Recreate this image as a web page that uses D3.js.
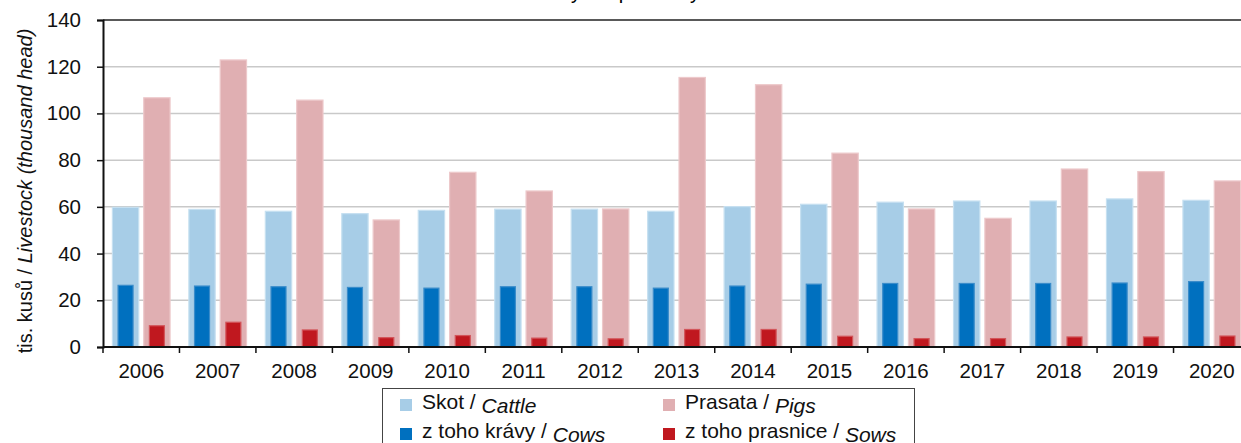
<!DOCTYPE html>
<html>
<head>
<meta charset="utf-8">
<script src="https://cdn.jsdelivr.net/npm/d3@7"></script>
<style>
  body { margin: 0; background: #fff; }
  svg { display: block; font-family: "Liberation Sans", Arial, sans-serif; }
</style>
</head>
<body>
<svg width="1241" height="443"></svg>
<script>
var years = ["2006", "2007", "2008", "2009", "2010", "2011", "2012", "2013", "2014", "2015", "2016", "2017", "2018", "2019", "2020"];
var cattle = [59.8, 58.9, 58.1, 57.1, 58.5, 59.0, 59.0, 58.1, 60.1, 61.1, 62.0, 62.5, 62.5, 63.4, 62.8];
var pigs = [106.7, 122.9, 105.7, 54.4, 74.8, 66.8, 59.1, 115.4, 112.3, 83.0, 59.1, 55.1, 76.2, 75.1, 71.1];
var cows = [26.4, 26.1, 25.8, 25.5, 25.2, 25.8, 25.8, 25.2, 26.1, 26.9, 27.2, 27.2, 27.2, 27.4, 28.0];
var sows = [9.1, 10.6, 7.3, 4.0, 4.9, 3.8, 3.5, 7.5, 7.5, 4.6, 3.6, 3.6, 4.3, 4.3, 4.7];
var yTicks = [0, 20, 40, 60, 80, 100, 120, 140];

var svg = d3.select("svg");

const plotLeft = 103;
const plotRight = 1250; // plot runs past the window edge
const plotTop = 20;
const plotBottom = 347;

var x = d3.scaleBand().domain(years).range([plotLeft, plotRight]).padding(0);
var sub = d3.scaleBand().domain(["cattle", "pigs"]).range([0, x.bandwidth()])
  .paddingInner(0.16).paddingOuter(0.3);
var y = d3.scaleLinear().domain([0, 140]).range([plotBottom, plotTop]);

// title, mostly above the visible area
svg.append("text")
  .attr("x", 745)
  .attr("y", -1)
  .attr("text-anchor", "middle")
  .style("font-size", "20px")
  .text("Stavy hospodářských zvířat / ")
  .append("tspan")
  .style("font-style", "italic")
  .text("Livestock numbers");

// gridlines
svg.append("g")
  .selectAll("line")
  .data(yTicks.filter(d => d > 0 && d < 140))
  .enter()
  .append("line")
  .attr("x1", plotLeft)
  .attr("x2", plotRight)
  .attr("y1", d => y(d))
  .attr("y2", d => y(d))
  .attr("stroke", "#c9c9c9")
  .attr("stroke-width", 1.5);

// top border
svg.append("line")
  .attr("x1", plotLeft).attr("x2", plotRight)
  .attr("y1", y(140)).attr("y2", y(140))
  .attr("stroke", "#222").attr("stroke-width", 1.5);

var rows = years.map((yr, i) => ({
  year: yr, cattle: cattle[i], pigs: pigs[i], cows: cows[i], sows: sows[i]
}));

var outerW = sub.bandwidth();
var innerW = outerW * 0.57;

function bars(cls, key, col, fill, stroke, w) {
  svg.append("g")
    .selectAll("rect")
    .data(rows)
    .enter()
    .append("rect")
    .attr("class", cls)
    .attr("x", d => x(d.year) + sub(col) + (outerW - w) / 2)
    .attr("width", w)
    .attr("y", d => y(d[key]))
    .attr("height", d => y(0) - y(d[key]))
    .attr("fill", fill)
    .attr("stroke", stroke)
    .attr("stroke-width", 1.2);
}

bars("cattle", "cattle", "cattle", "#a7cde7", "#c6e0f1", outerW);
bars("pigs", "pigs", "pigs", "#e0afb2", "#edc9cb", outerW);
bars("cows", "cows", "cattle", "#0070bf", "#3a8cca", innerW);
bars("sows", "sows", "pigs", "#c0181f", "#d2555a", innerW);

// axes
var yAxis = svg.append("g")
  .attr("transform", "translate(" + plotLeft + ",0)")
  .call(d3.axisLeft(y).tickValues(yTicks).tickSize(6).tickPadding(16));
yAxis.select(".domain").attr("stroke", "#111").attr("stroke-width", 2);
yAxis.selectAll(".tick line").attr("stroke", "#111").attr("stroke-width", 1.5);
yAxis.selectAll(".tick text")
  .attr("fill", "#111")
  .style("font-size", "20.5px")
  .style("font-family", "Liberation Sans, Arial, sans-serif");

var xAxis = svg.append("g")
  .attr("transform", "translate(0," + plotBottom + ")")
  .call(d3.axisBottom(x).tickSize(0).tickPadding(16));
xAxis.select(".domain").remove();
xAxis.selectAll(".tick text")
  .attr("fill", "#111")
  .style("font-size", "20.5px")
  .style("font-family", "Liberation Sans, Arial, sans-serif");

svg.append("line")
  .attr("x1", plotLeft).attr("x2", plotRight)
  .attr("y1", plotBottom).attr("y2", plotBottom)
  .attr("stroke", "#111").attr("stroke-width", 2);

// tick marks at band edges
svg.append("g")
  .selectAll("line")
  .data(years.concat(["end"]))
  .enter()
  .append("line")
  .attr("x1", d => d === "end" ? plotRight : x(d))
  .attr("x2", d => d === "end" ? plotRight : x(d))
  .attr("y1", plotBottom)
  .attr("y2", plotBottom + 6)
  .attr("stroke", "#111")
  .attr("stroke-width", 1.5);

// y label
var yl = svg.append("text")
  .attr("transform", "translate(32,191) rotate(-90)")
  .attr("text-anchor", "middle")
  .attr("fill", "#111")
  .style("font-size", "20px");
yl.append("tspan").text("tis. kusů / ");
yl.append("tspan").style("font-style", "italic").text("Livestock (thousand head)");

// legend
svg.append("rect")
  .attr("x", 382.5).attr("y", 388.5)
  .attr("width", 532).attr("height", 80)
  .attr("fill", "#fff").attr("stroke", "#444").attr("stroke-width", 1);

var legendItems = [
  { cz: "Skot / ", en: "Cattle", color: "#a7cde7", lx: 400, ly: 399 },
  { cz: "Prasata / ", en: "Pigs", color: "#e0afb2", lx: 663, ly: 399 },
  { cz: "z toho krávy / ", en: "Cows", color: "#0070bf", lx: 400, ly: 428 },
  { cz: "z toho prasnice / ", en: "Sows", color: "#c0181f", lx: 663, ly: 428 }
];

var lg = svg.append("g")
  .selectAll("g")
  .data(legendItems)
  .enter()
  .append("g");

lg.append("rect")
  .attr("x", d => d.lx).attr("y", d => d.ly)
  .attr("width", 12).attr("height", 12)
  .attr("fill", d => d.color);

var lt = lg.append("text")
  .attr("x", d => d.lx + 22)
  .attr("y", d => d.ly + 10)
  .attr("fill", "#111")
  .style("font-size", "21px");
lt.append("tspan").text(d => d.cz);
lt.append("tspan").attr("dy", 4).style("font-style", "italic").text(d => d.en);
</script>
</body>
</html>
